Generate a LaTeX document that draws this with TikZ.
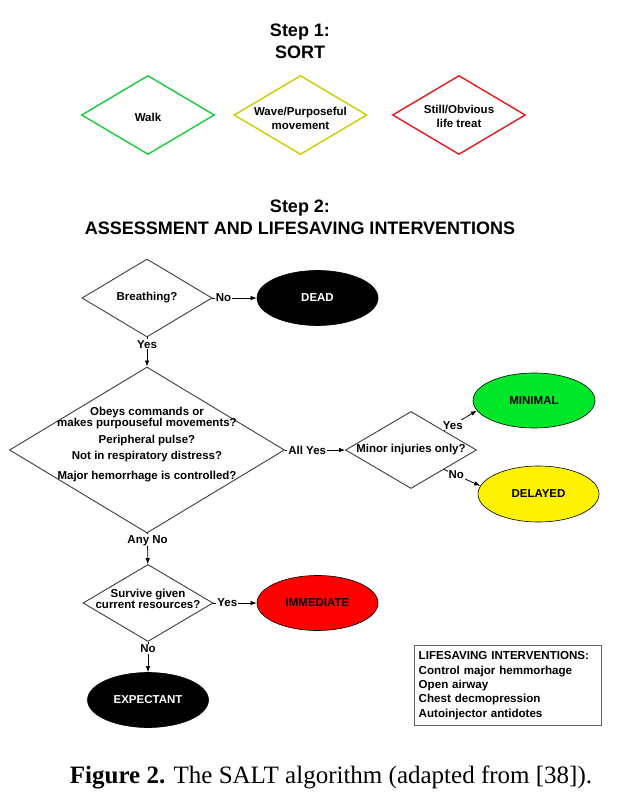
\documentclass[tikz,border=0pt]{standalone}
\usepackage{fontspec}
\setmainfont{Liberation Sans}
\newfontfamily\capfont{Liberation Serif}
\usetikzlibrary{shapes.geometric,arrows.meta}

\definecolor{walkgreen}{RGB}{20,204,60}
\definecolor{waveyellow}{RGB}{204,204,0}
\definecolor{stillred}{RGB}{230,25,25}
\definecolor{minigreen}{RGB}{0,230,40}
\definecolor{diagray}{RGB}{60,60,60}
\definecolor{boxgray}{RGB}{100,100,100}

\begin{document}
\begin{tikzpicture}[x=1pt,y=-1pt,
	font=\bfseries\fontsize{11.5}{14}\selectfont,
	title/.style={align=center,font=\bfseries\fontsize{18}{22}\selectfont},
	sortdia/.style={diamond,line width=1.4pt,inner sep=0pt,minimum width=133pt,minimum height=79pt},
	qdia/.style={diamond,draw=diagray,line width=0.9pt,inner sep=0pt,minimum width=130pt,minimum height=78pt},
	endpt/.style={ellipse,draw=black,line width=0.6pt,inner sep=0pt,minimum width=121pt,minimum height=55pt},
	lbl/.style={fill=white,inner sep=1pt},
	arr/.style={-{Latex[length=6pt,width=4.5pt]},line width=0.8pt}]
								\useasboundingbox (0,0) rectangle (628,805);
								% step 1
								\node[title] (step1) at (300,41) {Step 1:\\SORT};
								\node[sortdia,draw=walkgreen] (walk) at (148,115) {};
								\node (walktxt) at ([yshift=-2pt]walk.center) {Walk};
								\node[sortdia,draw=waveyellow] (wave) at (300.5,115) {};
								\node[align=center,font=\bfseries\fontsize{11.5}{14}\selectfont] (wavetxt) at ([yshift=-3pt]wave.center) {Wave/Purposeful\\movement};
								\node[sortdia,draw=stillred] (still) at (459,115) {};
								\node[align=center,font=\bfseries\fontsize{11.5}{14}\selectfont] (stilltxt) at ([yshift=-1pt]still.center) {Still/Obvious\\life treat};
								% step 2
								\node[title] (step2) at (300,217) {Step 2:\\ASSESSMENT AND LIFESAVING INTERVENTIONS};
								\node[qdia] (breath) at (147,298) {};
								\node (breathtxt) at (breath.center) {Breathing?};
								\node[endpt,fill=black,text=white] (dead) at (317.5,298) {DEAD};
								\node[qdia,minimum width=275pt,minimum height=166pt] (big) at (147,450) {};
								\node[align=center,font=\bfseries\fontsize{11.5}{11}\selectfont] (bigtxt) at ([yshift=5pt]big.center) {Obeys commands or\\makes purpouseful movements?\\[6pt]Peripheral pulse?\\[5pt]Not in respiratory distress?\\[9pt]Major hemorrhage is controlled?};
								\node[qdia,minimum width=131pt,minimum height=77pt] (minor) at (411,450) {};
								\node (minortxt) at (minor.center) {Minor injuries only?};
								\node[endpt,fill=minigreen,minimum width=122pt] (minimal) at (534,400.5) {MINIMAL};
								\node[endpt,fill=yellow,minimum height=56pt] (delayed) at (538.5,494) {DELAYED};
								\node[qdia,minimum height=77pt] (survive) at (148,603) {};
								\node[align=center,font=\bfseries\fontsize{11.5}{11}\selectfont] (survivetxt) at ([yshift=4pt]survive.center) {Survive given\\current resources?};
								\node[endpt,fill=red] (immediate) at (317.5,603) {IMMEDIATE};
								\node[endpt,fill=black,text=white] (expectant) at (148,700) {EXPECTANT};
								% arrows
								\draw[arr] (breath) -- node[lbl,pos=.25]{No} (dead);
								\draw[arr] (breath) -- node[lbl,pos=.23]{Yes} (big);
								\draw[arr] (big) -- node[lbl,pos=.37]{All Yes} (minor);
								\draw[arr] (minor.north east) -- node[lbl,pos=.27]{Yes} (minimal.190);
								\draw[arr] (minor.south east) -- node[lbl,pos=.34]{No} (delayed.172);
								\draw[arr] (big) -- node[lbl,pos=.23]{Any No} (survive);
								\draw[arr] (survive) -- node[lbl,pos=.32]{Yes} (immediate);
								\draw[arr] (survive) -- node[lbl,pos=.23]{No} (expectant);
								% interventions
								\node[draw=boxgray,line width=1.4pt,anchor=north west,inner xsep=4pt,inner ysep=6pt,text width=179pt,align=left,font=\bfseries\fontsize{11.6}{14.3}\selectfont] (lifesave) at (414,645) {LIFESAVING INTERVENTIONS:\\Control major hemmorhage\\Open airway\\Chest decmopression\\Autoinjector antidotes};
								\node[font=\capfont\mdseries\fontsize{25}{30}\selectfont] (caption) at (331,777) {\textbf{Figure 2.} The SALT algorithm (adapted from [38]).};
							\end{tikzpicture}
\end{document}
